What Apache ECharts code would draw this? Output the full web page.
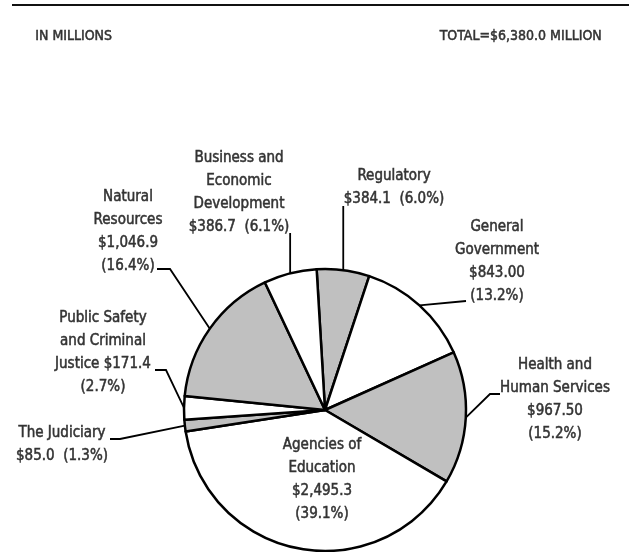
<!DOCTYPE html>
<html>
<head>
<meta charset="utf-8">
<script src="https://cdn.jsdelivr.net/npm/echarts@6/dist/echarts.min.js"></script>
<style>
  html, body { margin: 0; padding: 0; background: #fff; }
  #chart { width: 629px; height: 552px; }
</style>
</head>
<body>
<div id="chart"></div>
<script>
// slices in clockwise order starting just left of 12 o'clock
const categories = [
  'Regulatory', 'General Government', 'Health and Human Services', 'Agencies of Education',
  'The Judiciary', 'Public Safety and Criminal Justice', 'Natural Resources', 'Business and Economic Development'
];
const values = [384.1, 843.0, 967.5, 2495.3, 85.0, 171.4, 1046.9, 386.7];
const labelTexts = [
  'Regulatory\n$384.1  (6.0%)',
  'General\nGovernment\n$843.00\n(13.2%)',
  'Health and\nHuman Services\n$967.50\n(15.2%)',
  'Agencies of\nEducation\n$2,495.3\n(39.1%)',
  'The Judiciary\n$85.0  (1.3%)',
  'Public Safety\nand Criminal\nJustice $171.4\n(2.7%)',
  'Natural\nResources\n$1,046.9\n(16.4%)',
  'Business and\nEconomic\nDevelopment\n$386.7  (6.1%)'
];
const shaded = [true, false, true, false, true, false, true, false];

// label placement: label centre, then leader elbow and end (null = no leader)
const labelPlace = [
  { x: 394, y: 188, line: [[null, 206]] },
  { x: 497, y: 262, line: [[466, 301]] },
  { x: 555, y: 400, line: [[490, 394], [500, 394]] },
  { x: 322, y: 480, line: null },
  { x: 62, y: 445, line: [[120, 439], [110, 439]] },
  { x: 103, y: 353, line: [[166, 370], [155, 370]] },
  { x: 128, y: 232, line: [[170, 269], [157, 269]] },
  { x: 239, y: 193, line: [[null, 233]] }
];

const FONT = '"Liberation Sans Narrow", "DejaVu Sans Condensed", sans-serif';
const TEXT = '#333333';

const chart = echarts.init(document.getElementById('chart'));

chart.setOption({
  animation: false,
  graphic: [
    {
      type: 'line',
      shape: { x1: 12, y1: 5, x2: 629, y2: 5 },
      style: { stroke: '#111', lineWidth: 2 }
    },
    {
      type: 'text', left: 35, top: 29,
      style: { text: 'IN MILLIONS', fill: TEXT, font: '14px ' + FONT, stroke: TEXT, lineWidth: 0.5 }
    },
    {
      type: 'text', right: 27, top: 29,
      style: { text: 'TOTAL=$6,380.0 MILLION', fill: TEXT, font: '14px ' + FONT, stroke: TEXT, lineWidth: 0.5 }
    }
  ],
  series: [
    {
      type: 'pie',
      center: [325, 410],
      radius: 141,
      startAngle: 93.4,
      clockwise: true,
      avoidLabelOverlap: false,
      itemStyle: { borderColor: '#000', borderWidth: 2.5 },
      label: {
        show: true,
        position: 'outside',
        color: TEXT,
        fontFamily: FONT,
        fontSize: 15,
        lineHeight: 23,
        align: 'center',
        textBorderColor: TEXT,
        textBorderWidth: 0.5,
        formatter: (p) => labelTexts[p.dataIndex]
      },
      labelLine: {
        show: true,
        length: 10,
        length2: 10,
        smooth: false,
        lineStyle: { color: '#000', width: 1.8 }
      },
      labelLayout: (params) => {
        const place = labelPlace[params.dataIndex];
        const out = { x: place.x, y: place.y, align: 'center', verticalAlign: 'middle' };
        const anchor = params.labelLinePoints ? params.labelLinePoints[0] : null;
        if (place.line && anchor) {
          const pts = [[anchor[0], anchor[1]]];
          place.line.forEach((pt) => pts.push([pt[0] === null ? anchor[0] : pt[0], pt[1]]));
          while (pts.length < 3) pts.push(pts[pts.length - 1].slice());
          out.labelLinePoints = pts;
        } else if (anchor) {
          out.labelLinePoints = [anchor, anchor, anchor];
        }
        return out;
      },
      emphasis: { disabled: true },
      data: categories.map((name, i) => ({
        name,
        value: values[i],
        itemStyle: { color: shaded[i] ? '#c0c0c0' : '#ffffff' },
        labelLine: { show: !!labelPlace[i].line }
      }))
    }
  ]
});
</script>
</body>
</html>
